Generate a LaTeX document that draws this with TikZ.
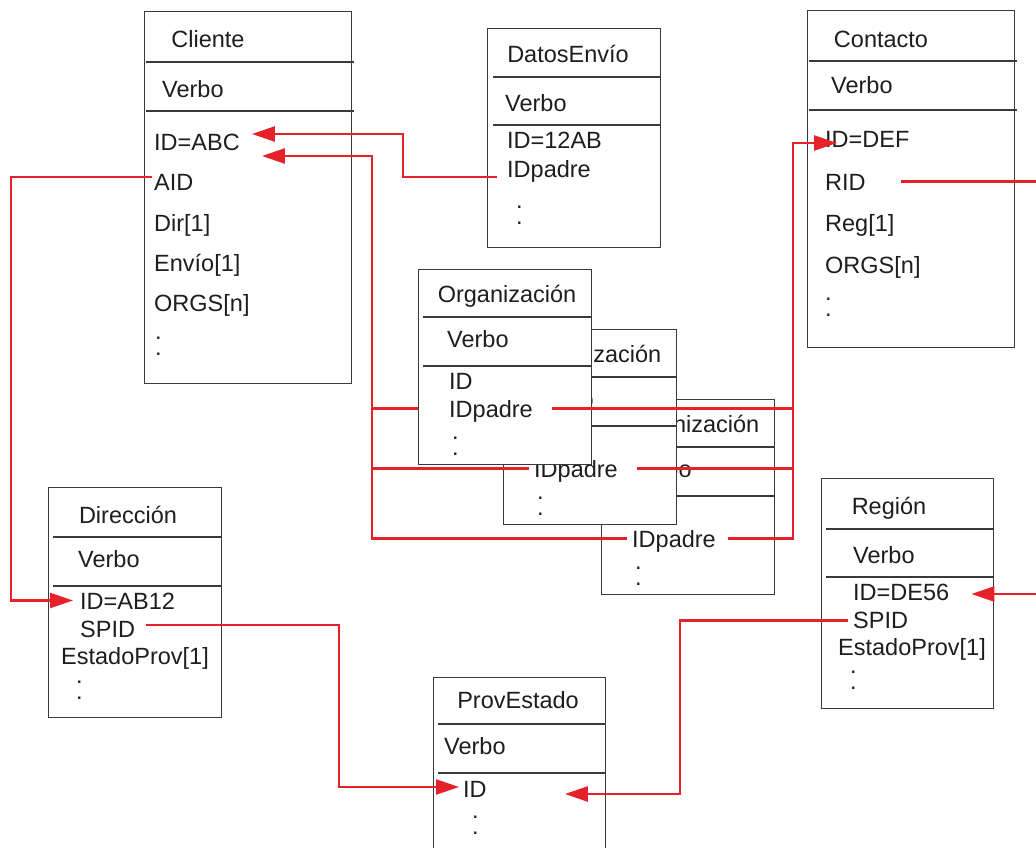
\documentclass[tikz,border=0pt]{standalone}
\usepackage{fontspec}
\setmainfont{Liberation Sans}
\usetikzlibrary{arrows.meta}
\definecolor{ERBorde}{HTML}{3A3A3A}
\definecolor{ERRojo}{HTML}{E6212A}
\definecolor{ERTinta}{HTML}{1E1E1E}

\begin{document}
\begin{tikzpicture}[x=1pt,y=-1pt,
    font=\fontsize{23.5}{28}\selectfont,
    caja/.style={draw=ERBorde,line width=1.1pt,fill=white,
      anchor=north west,inner sep=0pt},
    separador/.style={draw=ERBorde,line width=1.1pt},
    titulo/.style={anchor=base,inner sep=0pt,text=ERTinta},
    campo/.style={anchor=base west,inner sep=0pt,text height=17pt,
      text depth=0pt,text=ERTinta},
    puntos/.style={anchor=north west,inner sep=0pt,align=left,text=ERTinta,
      font=\fontsize{23.5}{15.5}\selectfont},
    enlace/.style={draw=ERRojo,line width=2.4pt},
    flecha/.style={enlace,-{Triangle[length=23pt,width=15pt]}}
  ]
  \useasboundingbox (0,0) rectangle (1036,848);
  \clip (0,0) rectangle (1036,848);

  % Cliente
  \node[caja,minimum width=207pt,minimum height=372pt] (cliente) at (144,11) {};
  \draw[separador] (146,62) -- (354,62);
  \draw[separador] (146,111) -- (354,111);
  \node[titulo] (cliTit) at (208,48) {Cliente};
  \node[campo] (cliVerbo) at (162,98) {Verbo};
  \node[campo] (cliID) at (154,150) {ID=ABC};
  \node[campo] (cliAID) at (154,190) {AID};
  \node[campo] (cliDir) at (154,231) {Dir[1]};
  \node[campo] (cliEnv) at (154,271) {Envío[1]};
  \node[campo] (cliOrgs) at (154,311) {ORGS[n]};
  \node[puntos] (cliPts) at (155,337) {.\\.};

  % DatosEnvío
  \node[caja,minimum width=173pt,minimum height=219pt] (datos) at (487,28) {};
  \draw[separador] (493,77) -- (660,77);
  \draw[separador] (493,125) -- (660,125);
  \node[titulo] (datTit) at (568,63) {DatosEnvío};
  \node[campo] (datVerbo) at (505,112) {Verbo};
  \node[campo] (datID) at (507,149) {ID=12AB};
  \node[campo] (datPadre) at (507,178) {IDpadre};
  \node[puntos] (datPts) at (516,206) {.\\.};

  % Contacto
  \node[caja,minimum width=207pt,minimum height=337pt] (contacto) at (807,10) {};
  \draw[separador] (809,61) -- (1017,61);
  \draw[separador] (809,110) -- (1017,110);
  \node[titulo] (conTit) at (881,48) {Contacto};
  \node[campo] (conVerbo) at (831,94) {Verbo};
  \node[campo] (conID) at (825,148) {ID=DEF};
  \node[campo] (conRID) at (825,190) {RID};
  \node[campo] (conReg) at (825,231) {Reg[1]};
  \node[campo] (conOrgs) at (825,273) {ORGS[n]};
  \node[puntos] (conPts) at (825,298) {.\\.};

  % Organización, tres copias apiladas (la de atrás primero)
  \foreach \dx/\dy/\n in {183/130/C,85/60/B,0/0/A} {
    \begin{scope}[shift={(\dx,\dy)}]
      \node[caja,minimum width=173pt,minimum height=195pt] (org\n) at (418,269) {};
      \draw[separador] (423,317) -- (591,317);
      \draw[separador] (423,366) -- (591,366);
      \node[titulo] (orgTit\n) at (507,302) {Organización};
      \node[campo] (orgVerbo\n) at (447,347) {Verbo};
      \node[campo] (orgID\n) at (449,389) {ID};
      \node[campo] (padre\n) at (449,417) {IDpadre};
      \node[puntos] (orgPts\n) at (452,437) {.\\.};
    \end{scope}
  }

  % Dirección
  \node[caja,minimum width=173pt,minimum height=230pt] (direccion) at (48,487) {};
  \draw[separador] (53,537) -- (221,537);
  \draw[separador] (53,586) -- (221,586);
  \node[titulo] (dirTit) at (128,523) {Dirección};
  \node[campo] (dirVerbo) at (78,567) {Verbo};
  \node[campo] (dirID) at (80,609) {ID=AB12};
  \node[campo] (dirSPID) at (80,637) {SPID};
  \node[campo] (dirEst) at (61,664) {EstadoProv[1]};
  \node[puntos] (dirPts) at (76,681) {.\\.};

  % Región
  \node[caja,minimum width=172pt,minimum height=230pt] (region) at (821,478) {};
  \draw[separador] (826,529) -- (993,529);
  \draw[separador] (826,577) -- (993,577);
  \node[titulo] (regTit) at (889,514) {Región};
  \node[campo] (regVerbo) at (853,563) {Verbo};
  \node[campo] (regID) at (853,600) {ID=DE56};
  \node[campo] (regSPID) at (853,628) {SPID};
  \node[campo] (regEst) at (838,655) {EstadoProv[1]};
  \node[puntos] (regPts) at (850,671) {.\\.};

  % ProvEstado
  \node[caja,minimum width=172pt,minimum height=200pt] (prov) at (433,677) {};
  \draw[separador] (438,724) -- (605,724);
  \draw[separador] (438,773) -- (605,773);
  \node[titulo] (provTit) at (518,708) {ProvEstado};
  \node[campo] (provVerbo) at (444,754) {Verbo};
  \node[campo] (provID) at (463,797) {ID};
  \node[puntos] (provPts) at (472,816) {.\\.};

  % enlaces entre claves
  \coordinate (troncoIzq) at (372,156);
  \coordinate (troncoDer) at (793,143);
  \coordinate (vueltaDer) at (1060,400);

  \draw[flecha] ([xshift=-10pt,yshift=-7.5pt]datPadre.west) -- ++(-94,0)
    |- ([xshift=12pt,yshift=7.5pt]cliID.east);

  \draw[flecha] ([xshift=-5pt]padreC.west) -| (troncoIzq)
    -- ([xshift=22pt,yshift=-14.5pt]cliID.east);
  \draw[enlace] ([xshift=-5pt]padreB.west) -- (troncoIzq |- padreB.west);
  \draw[enlace] (orgA.west |- padreA.west) -- (troncoIzq |- padreA.west);

  \draw[flecha] ([xshift=12pt]padreC.east) -| (troncoDer)
    -- ([xshift=12pt,yshift=-3.5pt]conID.west);
  \draw[enlace] ([xshift=19pt]padreB.east) -- (troncoDer |- padreB.east);
  \draw[enlace] ([xshift=19pt]padreA.east) -- (troncoDer |- padreA.east);

  \draw[flecha] ([xshift=-2pt,yshift=4.5pt]cliAID.west) -- ++(-141,0)
    |- ([xshift=-7pt]dirID.west);

  \draw[flecha] ([xshift=11pt,yshift=3.5pt]dirSPID.east) -- ++(193,0)
    |- ([xshift=-4pt,yshift=1.5pt]provID.west);

  \draw[flecha] ([xshift=-5pt,yshift=-1pt]regSPID.west) -- ++(-168,0)
    |- ([xshift=78pt,yshift=-5.5pt]provID.east);

  \draw[flecha] ([xshift=35pt]conRID.east) -| (vueltaDer)
    |- ([xshift=22pt,yshift=-2.5pt]regID.east);
\end{tikzpicture}
\end{document}
